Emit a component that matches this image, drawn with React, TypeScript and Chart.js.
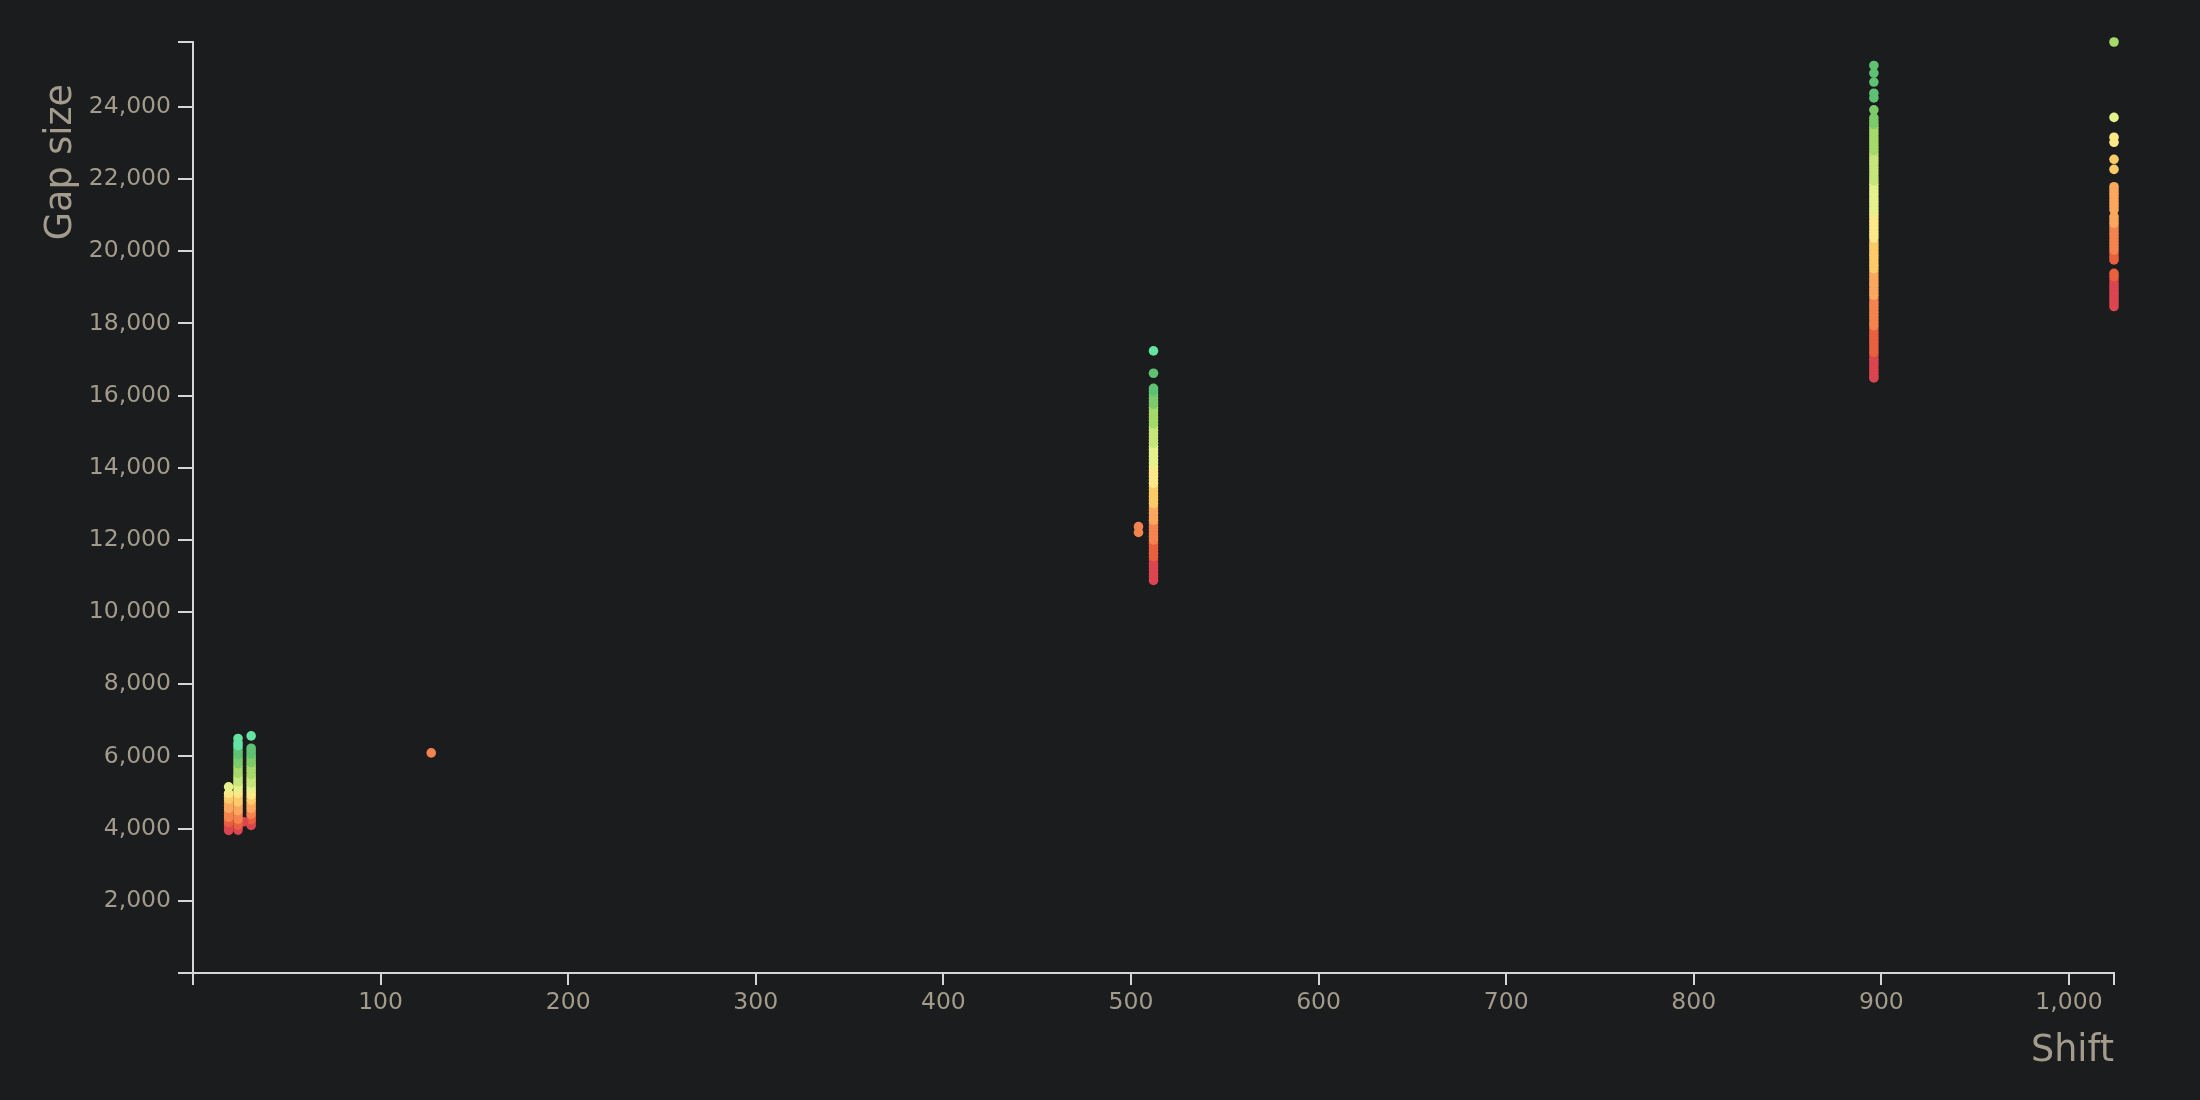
import React, { useEffect, useRef } from 'react';
import { Chart, registerables } from 'chart.js';

Chart.register(...registerables);

// ---------- DATA ----------
const xTickValues = [100, 200, 300, 400, 500, 600, 700, 800, 900, 1000];
const yTickValues = [2000, 4000, 6000, 8000, 10000, 12000, 14000, 16000, 18000, 20000, 22000, 24000];

// each point: [gap size, colour score 0..11]
const shift19: [number, number][] = [
  [3950, 0], [4030, 0], [4100, 0], [4170, 1], [4240, 1], [4310, 2], [4390, 2], [4470, 2],
  [4560, 3], [4650, 3], [4740, 3], [4820, 4], [4900, 4], [4980, 5], [5160, 6],
];
const shift24: [number, number][] = [
  [3960, 0], [4030, 0], [4100, 1], [4180, 1], [4260, 2], [4340, 2], [4420, 2], [4500, 3],
  [4580, 3], [4660, 3], [4740, 4], [4820, 4], [4900, 4], [4980, 5], [5060, 5], [5150, 6],
  [5220, 6], [5300, 7], [5380, 7], [5460, 7], [5540, 8], [5630, 8], [5720, 8], [5800, 9],
  [5880, 9], [5960, 9], [6050, 10], [6130, 10], [6220, 10], [6300, 11], [6380, 11], [6500, 11],
];
const shift27: [number, number][] = [[4190, 0]];
const shift31: [number, number][] = [
  [4090, 0], [4180, 0], [4250, 1], [4330, 1], [4400, 2], [4480, 2], [4560, 3], [4640, 3],
  [4710, 3], [4790, 4], [4870, 4], [4940, 5], [5020, 5], [5100, 6], [5180, 6], [5260, 7],
  [5340, 7], [5420, 7], [5500, 8], [5590, 8], [5670, 8], [5750, 8], [5830, 9], [5910, 9],
  [5990, 9], [6070, 10], [6150, 10], [6230, 10], [6570, 11],
];
const shift127: [number, number][] = [[6100, 2]];
const shift504: [number, number][] = [[12210, 2], [12370, 2]];
const shift512: [number, number][] = [
  [10880, 0], [10980, 0], [11070, 0], [11170, 0], [11260, 0], [11350, 0], [11450, 0],
  [11540, 1], [11630, 1], [11720, 1], [11820, 1], [11910, 1],
  [12000, 2], [12090, 2], [12180, 2], [12280, 2], [12370, 2], [12460, 2],
  [12550, 3], [12640, 3], [12740, 3], [12830, 3], [12920, 3],
  [13010, 4], [13110, 4], [13200, 4], [13290, 4], [13390, 4], [13480, 4],
  [13570, 5], [13660, 5], [13760, 5], [13850, 5], [13940, 5], [14030, 5],
  [14130, 6], [14220, 6], [14320, 6], [14410, 6], [14500, 6], [14590, 6],
  [14680, 7], [14770, 7], [14860, 7], [14950, 7], [15040, 7], [15130, 7],
  [15220, 8], [15310, 8], [15400, 8], [15490, 8], [15580, 8], [15670, 8],
  [15760, 9], [15840, 9], [15930, 9], [16020, 9], [16110, 10], [16200, 10],
  [16620, 10], [17240, 11],
];
const shift896: [number, number][] = [
  [16490, 0], [16550, 0], [16640, 0], [16730, 0], [16830, 0], [16920, 0], [17010, 0], [17110, 0],
  [17200, 1], [17290, 1], [17380, 1], [17480, 1], [17570, 1], [17660, 1], [17760, 1], [17850, 1],
  [17940, 2], [18030, 2], [18130, 2], [18220, 2], [18310, 2], [18410, 2], [18500, 2], [18590, 2], [18690, 2],
  [18780, 3], [18870, 3], [18960, 3], [19060, 3], [19150, 3], [19240, 3], [19340, 3], [19430, 3],
  [19520, 4], [19610, 4], [19700, 4], [19800, 4], [19890, 4], [19980, 4], [20080, 4], [20170, 4], [20260, 4],
  [20370, 5], [20460, 5], [20550, 5], [20650, 5], [20740, 5], [20830, 5], [20930, 5], [21020, 5],
  [21110, 6], [21200, 6], [21300, 6], [21390, 6], [21480, 6], [21580, 6], [21670, 6], [21760, 6], [21860, 6],
  [21950, 7], [22040, 7], [22140, 7], [22230, 7], [22320, 7], [22420, 7], [22510, 7], [22600, 7], [22700, 7],
  [22790, 8], [22880, 8], [22970, 8], [23060, 8], [23150, 8], [23250, 8], [23340, 8], [23430, 8],
  [23520, 9], [23610, 9], [23700, 9], [23920, 9],
  [24250, 10], [24380, 10], [24690, 10], [24940, 10], [25150, 10],
];
const shift1024: [number, number][] = [
  [18470, 0], [18560, 0], [18650, 0], [18740, 0], [18840, 0], [18930, 0], [19020, 0], [19110, 0], [19210, 0],
  [19300, 1], [19390, 1], [19760, 1], [19850, 1], [19950, 1],
  [20040, 2], [20130, 2], [20220, 2], [20310, 2], [20410, 2], [20500, 2], [20600, 2], [20690, 2],
  [20780, 3], [20870, 3], [20960, 3], [21150, 3], [21240, 3], [21330, 3], [21420, 3], [21520, 3],
  [21610, 3], [21700, 3], [21790, 3],
  [22270, 4], [22550, 4], [23020, 5], [23160, 5], [23710, 6], [25800, 8],
];

const columns: { shift: number; points: [number, number][] }[] = [
  { shift: 19, points: shift19 },
  { shift: 24, points: shift24 },
  { shift: 27, points: shift27 },
  { shift: 31, points: shift31 },
  { shift: 127, points: shift127 },
  { shift: 504, points: shift504 },
  { shift: 512, points: shift512 },
  { shift: 896, points: shift896 },
  { shift: 1024, points: shift1024 },
];

// ---------- STYLE ----------
const palette = [
  '#dc4550', '#e9603f', '#f5834f', '#fba75d', '#fdca68', '#fde888',
  '#e5f18a', '#c6e57b', '#a6d96c', '#7dca6b', '#5ec174', '#64e3a3',
];
const BG = '#1b1c1e';
const AXIS = '#d6d6d6';
const TEXT = '#a39b8b';
const FONT = "'DejaVu Sans', sans-serif";

export default function App() {
  const ref = useRef<HTMLCanvasElement | null>(null);

  useEffect(() => {
    document.body.style.margin = '0';
    document.body.style.background = BG;
    const canvas = ref.current;
    if (!canvas) return;

    const xMax = Math.max(...columns.map((c) => c.shift));
    const yMax = Math.max(...columns.flatMap((c) => c.points.map((p) => p[0])));

    const datasets = columns.map((c) => ({
      label: String(c.shift),
      data: [...c.points]
        .sort((a, b) => a[0] - b[0])
        .map((p) => ({ x: c.shift, y: p[0], s: p[1] })),
      pointRadius: 4.8,
      pointBorderWidth: 0,
      pointBackgroundColor: (ctx: any) => palette[ctx.raw ? ctx.raw.s : 0],
      pointHoverRadius: 4.8,
      clip: false as any,
    }));

    const titles = {
      id: 'axisTitles',
      beforeDraw(chart: any) {
        const c = chart.ctx;
        c.save();
        c.fillStyle = BG;
        c.fillRect(0, 0, chart.width, chart.height);
        c.restore();
      },
      afterDraw(chart: any) {
        const c = chart.ctx;
        const area = chart.chartArea;
        c.save();
        c.fillStyle = TEXT;
        c.font = `36.5px ${FONT}`;
        c.textAlign = 'right';
        c.textBaseline = 'alphabetic';
        c.fillText('Shift', area.right, 1061);
        c.translate(71, 84);
        c.rotate(-Math.PI / 2);
        c.fillText('Gap size', 0, 0);
        c.restore();
      },
    };

    const chart = new Chart(canvas, {
      type: 'scatter',
      data: { datasets: datasets as any },
      plugins: [titles],
      options: {
        animation: false,
        responsive: false,
        events: [],
        layout: { padding: { top: 42, right: 86, bottom: 0, left: 0 } },
        plugins: { legend: { display: false }, tooltip: { enabled: false } },
        scales: {
          x: {
            type: 'linear',
            min: 0,
            max: xMax,
            afterFit: (s: any) => { s.height = 127; },
            afterBuildTicks: (s: any) => {
              s.ticks = [0, ...xTickValues, xMax].map((v) => ({ value: v }));
            },
            grid: {
              display: true,
              drawOnChartArea: false,
              drawTicks: true,
              tickLength: 12,
              color: AXIS,
              lineWidth: 2,
            },
            border: { display: true, color: AXIS, width: 2 },
            ticks: {
              color: TEXT,
              font: { family: FONT, size: 23.5 },
              padding: 3.5,
              maxRotation: 0,
              autoSkip: false,
              callback: (v: any) => (v === 0 || v === xMax ? '' : Number(v).toLocaleString('en-US')),
            },
          },
          y: {
            type: 'linear',
            min: 0,
            max: yMax,
            afterFit: (s: any) => { s.width = 193; },
            afterBuildTicks: (s: any) => {
              s.ticks = [0, ...yTickValues, yMax].map((v) => ({ value: v }));
            },
            grid: {
              display: true,
              drawOnChartArea: false,
              drawTicks: true,
              tickLength: 15,
              color: AXIS,
              lineWidth: 2,
            },
            border: { display: true, color: AXIS, width: 2 },
            ticks: {
              color: TEXT,
              font: { family: FONT, size: 23.5 },
              padding: 7,
              autoSkip: false,
              callback: (v: any) => (v === 0 || v === yMax ? '' : Number(v).toLocaleString('en-US')),
            },
          },
        },
      },
    });
    return () => chart.destroy();
  }, []);

  return (
    <div style={{ width: 2200, height: 1100, background: BG }}>
      <canvas ref={ref} width={2200} height={1100} style={{ display: 'block', width: 2200, height: 1100 }} />
    </div>
  );
}
